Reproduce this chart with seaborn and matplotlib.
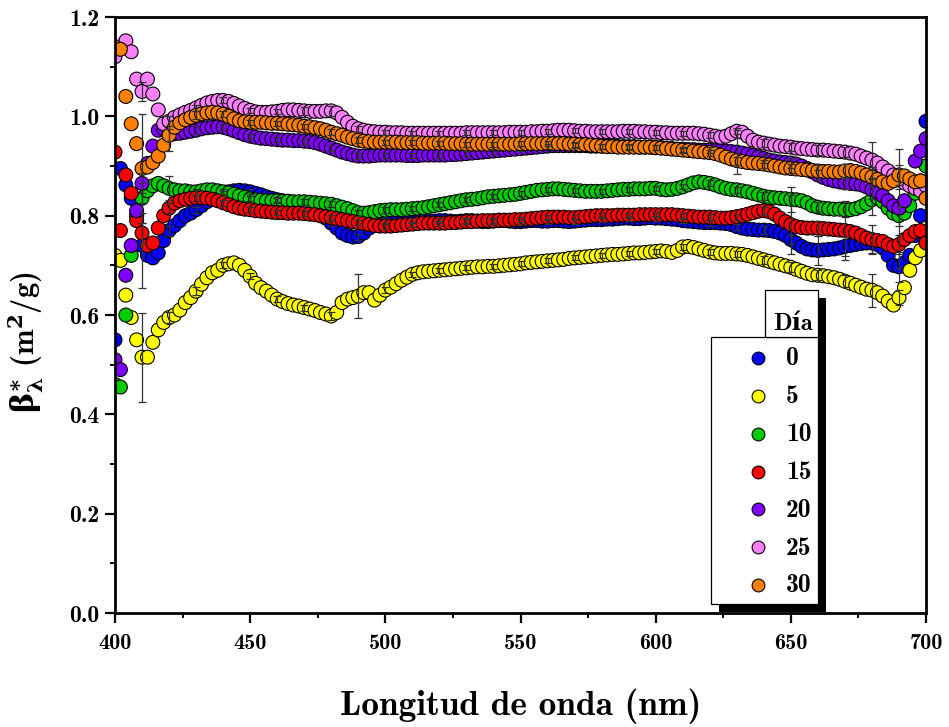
import numpy as np
import pandas as pd
import matplotlib
matplotlib.use("Agg")
import matplotlib.pyplot as plt
from matplotlib.patches import Rectangle
from matplotlib.lines import Line2D
from matplotlib.ticker import MultipleLocator, FormatStrFormatter
import seaborn as sns

# ---------------------------------------------------------------- data
wavelength = np.arange(400, 701, 2)   # nm

dias = ["0", "5", "10", "15", "20", "25", "30"]
colores = ["#0000ff", "#ffff00", "#00cc00", "#ff0000", "#8000ff", "#ff80ff", "#ff8000"]

beta_0 = [
    0.55, 0.895, 0.862, 0.835, 0.80, 0.74, 0.72, 0.715, 0.725, 0.75,
    0.77, 0.78, 0.79, 0.80, 0.805, 0.812, 0.82, 0.828, 0.835, 0.84,
    0.845, 0.848, 0.85, 0.851, 0.85, 0.848, 0.845, 0.842, 0.838, 0.835,
    0.832, 0.83, 0.828, 0.825, 0.82, 0.815, 0.81, 0.805, 0.80, 0.795,
    0.785, 0.775, 0.765, 0.76, 0.757, 0.758, 0.765, 0.775, 0.783, 0.788,
    0.79, 0.79, 0.788, 0.787, 0.788, 0.79, 0.79, 0.789, 0.788, 0.789,
    0.79, 0.79, 0.789, 0.788, 0.789, 0.79, 0.79, 0.789, 0.788, 0.788,
    0.789, 0.79, 0.79, 0.789, 0.788, 0.788, 0.789, 0.79, 0.79, 0.789,
    0.789, 0.79, 0.79, 0.789, 0.788, 0.789, 0.79, 0.791, 0.792, 0.792,
    0.792, 0.793, 0.793, 0.794, 0.795, 0.795, 0.794, 0.794, 0.795, 0.796,
    0.795, 0.795, 0.794, 0.793, 0.792, 0.79, 0.789, 0.788, 0.787, 0.786,
    0.786, 0.786, 0.785, 0.784, 0.782, 0.778, 0.775, 0.773, 0.772, 0.771,
    0.771, 0.77, 0.768, 0.765, 0.76, 0.752, 0.745, 0.738, 0.733, 0.731,
    0.73, 0.731, 0.732, 0.733, 0.735, 0.738, 0.74, 0.742, 0.744, 0.745,
    0.745, 0.742, 0.735, 0.72, 0.70, 0.697, 0.705, 0.72, 0.76, 0.80,
    0.99,
]
beta_5 = [
    0.72, 0.71, 0.64, 0.595, 0.55, 0.515, 0.515, 0.545, 0.57, 0.585,
    0.595, 0.60, 0.61, 0.625, 0.635, 0.648, 0.662, 0.675, 0.685, 0.69,
    0.70, 0.703, 0.705, 0.70, 0.69, 0.678, 0.664, 0.655, 0.648, 0.64,
    0.632, 0.627, 0.623, 0.62, 0.618, 0.615, 0.612, 0.609, 0.605, 0.602,
    0.598, 0.605, 0.625, 0.632, 0.635, 0.638, 0.645, 0.645, 0.63, 0.64,
    0.65, 0.656, 0.663, 0.67, 0.676, 0.682, 0.685, 0.687, 0.688, 0.689,
    0.69, 0.691, 0.692, 0.693, 0.694, 0.695, 0.696, 0.697, 0.697, 0.698,
    0.698, 0.699, 0.70, 0.701, 0.702, 0.703, 0.705, 0.706, 0.707, 0.708,
    0.709, 0.71, 0.711, 0.712, 0.714, 0.715, 0.716, 0.717, 0.718, 0.719,
    0.72, 0.721, 0.722, 0.722, 0.723, 0.724, 0.725, 0.725, 0.726, 0.727,
    0.728, 0.729, 0.728, 0.726, 0.73, 0.737, 0.738, 0.736, 0.733, 0.73,
    0.727, 0.725, 0.724, 0.724, 0.724, 0.723, 0.722, 0.72, 0.717, 0.714,
    0.711, 0.708, 0.705, 0.702, 0.699, 0.696, 0.692, 0.688, 0.684, 0.681,
    0.68, 0.679, 0.677, 0.675, 0.672, 0.668, 0.664, 0.66, 0.656, 0.652,
    0.65, 0.645, 0.638, 0.628, 0.62, 0.635, 0.655, 0.69, 0.715, 0.73,
    0.75,
]
beta_10 = [
    0.46, 0.455, 0.60, 0.72, 0.80, 0.835, 0.85, 0.86, 0.865, 0.86,
    0.855, 0.852, 0.85, 0.85, 0.848, 0.848, 0.85, 0.852, 0.852, 0.85,
    0.848, 0.846, 0.843, 0.84, 0.837, 0.834, 0.832, 0.831, 0.83, 0.83,
    0.83, 0.829, 0.829, 0.828, 0.828, 0.828, 0.827, 0.826, 0.825, 0.824,
    0.823, 0.82, 0.817, 0.814, 0.81, 0.806, 0.805, 0.806, 0.808, 0.81,
    0.811, 0.812, 0.812, 0.812, 0.813, 0.814, 0.815, 0.816, 0.818, 0.82,
    0.822, 0.824, 0.826, 0.828, 0.83, 0.832, 0.833, 0.834, 0.836, 0.838,
    0.839, 0.84, 0.841, 0.842, 0.843, 0.845, 0.847, 0.849, 0.851, 0.852,
    0.853, 0.854, 0.854, 0.853, 0.852, 0.851, 0.85, 0.849, 0.849, 0.849,
    0.849, 0.85, 0.851, 0.852, 0.853, 0.853, 0.854, 0.854, 0.854, 0.855,
    0.855, 0.853, 0.852, 0.853, 0.855, 0.858, 0.862, 0.866, 0.868, 0.867,
    0.865, 0.862, 0.858, 0.855, 0.853, 0.852, 0.85, 0.848, 0.845, 0.842,
    0.839, 0.837, 0.836, 0.835, 0.834, 0.833, 0.832, 0.83, 0.826, 0.82,
    0.817, 0.815, 0.814, 0.813, 0.813, 0.812, 0.812, 0.814, 0.818, 0.824,
    0.832, 0.836, 0.828, 0.815, 0.805, 0.80, 0.805, 0.82, 0.845, 0.87,
    0.90,
]
beta_15 = [
    0.928, 0.77, 0.882, 0.845, 0.79, 0.765, 0.74, 0.745, 0.775, 0.80,
    0.815, 0.825, 0.83, 0.833, 0.835, 0.836, 0.836, 0.835, 0.833, 0.83,
    0.826, 0.822, 0.818, 0.815, 0.813, 0.812, 0.81, 0.809, 0.808, 0.807,
    0.806, 0.806, 0.805, 0.805, 0.805, 0.804, 0.803, 0.802, 0.80, 0.798,
    0.796, 0.794, 0.792, 0.79, 0.788, 0.786, 0.784, 0.782, 0.78, 0.779,
    0.779, 0.779, 0.78, 0.781, 0.782, 0.783, 0.784, 0.785, 0.785, 0.785,
    0.785, 0.785, 0.786, 0.786, 0.787, 0.788, 0.788, 0.789, 0.79, 0.79,
    0.79, 0.791, 0.791, 0.791, 0.792, 0.792, 0.793, 0.794, 0.795, 0.796,
    0.797, 0.797, 0.797, 0.797, 0.796, 0.796, 0.797, 0.798, 0.799, 0.80,
    0.80, 0.80, 0.80, 0.801, 0.801, 0.801, 0.801, 0.802, 0.802, 0.802,
    0.802, 0.802, 0.802, 0.802, 0.801, 0.80, 0.799, 0.798, 0.797, 0.797,
    0.797, 0.796, 0.795, 0.795, 0.796, 0.798, 0.80, 0.803, 0.806, 0.809,
    0.81, 0.808, 0.803, 0.795, 0.788, 0.782, 0.778, 0.776, 0.775, 0.775,
    0.775, 0.774, 0.773, 0.772, 0.771, 0.77, 0.768, 0.765, 0.76, 0.755,
    0.752, 0.75, 0.748, 0.742, 0.738, 0.742, 0.752, 0.76, 0.768, 0.77,
    0.745,
]
beta_20 = [
    0.51, 0.49, 0.68, 0.74, 0.81, 0.865, 0.905, 0.94, 0.972, 0.975,
    0.965, 0.965, 0.966, 0.968, 0.97, 0.972, 0.975, 0.977, 0.978, 0.979,
    0.978, 0.975, 0.971, 0.967, 0.963, 0.96, 0.958, 0.956, 0.955, 0.954,
    0.953, 0.952, 0.952, 0.951, 0.951, 0.95, 0.949, 0.947, 0.944, 0.94,
    0.936, 0.932, 0.928, 0.925, 0.922, 0.92, 0.92, 0.92, 0.921, 0.922,
    0.922, 0.922, 0.922, 0.922, 0.921, 0.921, 0.921, 0.922, 0.922, 0.922,
    0.922, 0.922, 0.923, 0.923, 0.924, 0.925, 0.926, 0.927, 0.928, 0.929,
    0.93, 0.931, 0.932, 0.933, 0.934, 0.935, 0.936, 0.937, 0.938, 0.939,
    0.94, 0.941, 0.941, 0.941, 0.941, 0.941, 0.941, 0.941, 0.94, 0.94,
    0.94, 0.94, 0.94, 0.939, 0.939, 0.939, 0.939, 0.938, 0.938, 0.938,
    0.937, 0.937, 0.936, 0.935, 0.934, 0.934, 0.933, 0.933, 0.932, 0.932,
    0.932, 0.931, 0.931, 0.93, 0.929, 0.928, 0.926, 0.924, 0.921, 0.918,
    0.915, 0.912, 0.91, 0.908, 0.907, 0.906, 0.904, 0.90, 0.895, 0.888,
    0.882, 0.877, 0.873, 0.87, 0.868, 0.866, 0.865, 0.864, 0.862, 0.858,
    0.853, 0.848, 0.84, 0.83, 0.82, 0.815, 0.83, 0.87, 0.91, 0.93,
    0.955,
]
beta_25 = [
    1.12, 1.14, 1.152, 1.13, 1.075, 1.05, 1.075, 1.045, 1.013, 0.985,
    0.99, 0.998, 1.003, 1.008, 1.012, 1.017, 1.022, 1.027, 1.03, 1.032,
    1.032, 1.03, 1.026, 1.021, 1.016, 1.012, 1.009, 1.008, 1.008, 1.009,
    1.01, 1.012, 1.013, 1.013, 1.012, 1.011, 1.01, 1.01, 1.01, 1.011,
    1.011, 1.007, 0.998, 0.988, 0.98, 0.975, 0.972, 0.97, 0.969, 0.968,
    0.968, 0.967, 0.967, 0.967, 0.966, 0.966, 0.966, 0.966, 0.966, 0.966,
    0.966, 0.966, 0.966, 0.966, 0.966, 0.967, 0.967, 0.967, 0.967, 0.967,
    0.967, 0.967, 0.967, 0.968, 0.968, 0.968, 0.968, 0.969, 0.969, 0.97,
    0.97, 0.971, 0.972, 0.972, 0.972, 0.971, 0.97, 0.97, 0.969, 0.969,
    0.969, 0.969, 0.969, 0.969, 0.97, 0.97, 0.97, 0.969, 0.969, 0.968,
    0.968, 0.967, 0.967, 0.966, 0.966, 0.966, 0.966, 0.966, 0.965, 0.964,
    0.962, 0.96, 0.958, 0.96, 0.965, 0.97, 0.968, 0.96, 0.952, 0.948,
    0.946, 0.944, 0.942, 0.94, 0.939, 0.938, 0.936, 0.935, 0.934, 0.933,
    0.932, 0.932, 0.931, 0.93, 0.929, 0.928, 0.926, 0.924, 0.92, 0.916,
    0.912, 0.906, 0.898, 0.89, 0.882, 0.874, 0.866, 0.86, 0.855, 0.85,
    0.86,
]
beta_30 = [
    1.14, 1.135, 1.04, 0.985, 0.945, 0.895, 0.898, 0.907, 0.92, 0.942,
    0.962, 0.978, 0.987, 0.993, 0.998, 1.002, 1.005, 1.007, 1.008, 1.007,
    1.004, 1.0, 0.995, 0.991, 0.989, 0.988, 0.988, 0.988, 0.987, 0.986,
    0.986, 0.985, 0.984, 0.983, 0.982, 0.98, 0.979, 0.977, 0.975, 0.972,
    0.968, 0.965, 0.962, 0.958, 0.955, 0.952, 0.95, 0.949, 0.948, 0.948,
    0.948, 0.948, 0.948, 0.947, 0.947, 0.947, 0.947, 0.946, 0.946, 0.946,
    0.946, 0.946, 0.945, 0.945, 0.945, 0.944, 0.944, 0.944, 0.944, 0.944,
    0.944, 0.944, 0.944, 0.944, 0.944, 0.945, 0.945, 0.945, 0.945, 0.945,
    0.945, 0.945, 0.945, 0.945, 0.944, 0.944, 0.943, 0.943, 0.942, 0.941,
    0.94, 0.939, 0.939, 0.938, 0.938, 0.938, 0.938, 0.938, 0.938, 0.938,
    0.937, 0.936, 0.935, 0.934, 0.933, 0.932, 0.931, 0.93, 0.929, 0.928,
    0.927, 0.925, 0.922, 0.918, 0.914, 0.911, 0.909, 0.907, 0.906, 0.905,
    0.904, 0.902, 0.90, 0.898, 0.896, 0.895, 0.894, 0.893, 0.892, 0.891,
    0.89, 0.889, 0.889, 0.888, 0.888, 0.89, 0.891, 0.889, 0.886, 0.882,
    0.878, 0.873, 0.868, 0.865, 0.87, 0.882, 0.88, 0.874, 0.868, 0.87,
    0.835,
]

# standard deviations, reported every 10 nm between 410 and 690 nm
err_wavelength = np.arange(410, 691, 10)
err_0 = [0.085, 0.01, 0.006, 0.005, 0.005, 0.005, 0.006, 0.006, 0.006, 0.005,
         0.005, 0.005, 0.005, 0.005, 0.005, 0.005, 0.005, 0.005, 0.005, 0.005,
         0.005, 0.006, 0.006, 0.008, 0.01, 0.03, 0.02, 0.02, 0.03]
err_5 = [0.09, 0.012, 0.008, 0.006, 0.006, 0.006, 0.006, 0.008, 0.045, 0.006,
         0.005, 0.005, 0.005, 0.005, 0.005, 0.005, 0.005, 0.005, 0.005, 0.005,
         0.006, 0.006, 0.006, 0.008, 0.01, 0.01, 0.012, 0.033, 0.015]
err_10 = [0.03, 0.024, 0.006, 0.005, 0.005, 0.005, 0.006, 0.006, 0.006, 0.006,
          0.005, 0.005, 0.005, 0.005, 0.005, 0.005, 0.005, 0.005, 0.005, 0.005,
          0.005, 0.006, 0.006, 0.008, 0.025, 0.01, 0.015, 0.03, 0.02]
err_15 = [0.02, 0.01, 0.006, 0.006, 0.005, 0.005, 0.005, 0.005, 0.005, 0.005,
          0.005, 0.005, 0.005, 0.005, 0.005, 0.005, 0.005, 0.005, 0.005, 0.005,
          0.006, 0.006, 0.006, 0.008, 0.06, 0.015, 0.06, 0.03, 0.02]
err_20 = [0.02, 0.035, 0.008, 0.006, 0.005, 0.005, 0.005, 0.006, 0.006, 0.005,
          0.005, 0.005, 0.005, 0.005, 0.005, 0.005, 0.005, 0.005, 0.005, 0.005,
          0.005, 0.006, 0.045, 0.008, 0.01, 0.01, 0.012, 0.02, 0.12]
err_25 = [0.02, 0.01, 0.006, 0.006, 0.005, 0.005, 0.008, 0.01, 0.006, 0.005,
          0.005, 0.005, 0.005, 0.005, 0.005, 0.005, 0.005, 0.005, 0.005, 0.005,
          0.005, 0.006, 0.006, 0.008, 0.008, 0.01, 0.01, 0.037, 0.02]
err_30 = [0.11, 0.012, 0.008, 0.006, 0.005, 0.005, 0.005, 0.006, 0.006, 0.005,
          0.005, 0.005, 0.005, 0.005, 0.005, 0.005, 0.005, 0.005, 0.005, 0.005,
          0.005, 0.006, 0.008, 0.008, 0.01, 0.012, 0.015, 0.02, 0.02]

series = [beta_0, beta_5, beta_10, beta_15, beta_20, beta_25, beta_30]
errores = [err_0, err_5, err_10, err_15, err_20, err_25, err_30]

df = pd.concat(
    [pd.DataFrame({"lambda": wavelength, "beta": vals, "Día": d})
     for d, vals in zip(dias, series)],
    ignore_index=True,
)

# ---------------------------------------------------------------- style
sns.set_theme(style="white")
plt.rcParams["font.family"] = ["cmb10", "DejaVu Serif"]
plt.rcParams["font.weight"] = "bold"
plt.rcParams["mathtext.fontset"] = "cm"
plt.rcParams["axes.unicode_minus"] = False
for key in ("text.color", "axes.labelcolor", "xtick.color", "ytick.color",
            "xtick.labelcolor", "ytick.labelcolor"):
    plt.rcParams[key] = "black"

W, H = 949, 727
fig = plt.figure(figsize=(W / 100, H / 100), dpi=100)
ax = fig.add_axes([115 / W, 1 - 613 / H, 811 / W, 596 / H])

sns.scatterplot(
    data=df, x="lambda", y="beta", hue="Día", palette=colores,
    s=100, edgecolor="black", linewidth=0.8, legend=False, ax=ax,
)

# error bars on top of the markers
for vals, err in zip(series, errores):
    lookup = dict(zip(wavelength.tolist(), vals))
    centers = [lookup[int(w)] for w in err_wavelength]
    ax.errorbar(err_wavelength, centers, yerr=err, fmt="none",
                ecolor="#333333", elinewidth=0.9, capsize=3.2,
                capthick=0.9, zorder=3)

ax.set_xlim(400, 700)
ax.set_ylim(0, 1.2)
ax.xaxis.set_major_locator(MultipleLocator(50))
ax.xaxis.set_minor_locator(MultipleLocator(25))
ax.yaxis.set_major_locator(MultipleLocator(0.2))
ax.yaxis.set_minor_locator(MultipleLocator(0.1))
ax.yaxis.set_major_formatter(FormatStrFormatter("%.1f"))

for s in ax.spines.values():
    s.set_linewidth(2.0)
    s.set_color("black")
ax.tick_params(which="major", direction="out", length=7, width=1.6,
               color="black", bottom=True, left=True, top=False, right=False)
ax.tick_params(which="minor", direction="out", length=3.8, width=1.4,
               color="black", bottom=True, left=True, top=False, right=False)
ax.tick_params(axis="x", which="major", labelsize=16, pad=8)
ax.tick_params(axis="y", which="major", labelsize=17, pad=4)

ax.set_xlabel("Longitud de onda (nm)", fontsize=25.5, labelpad=26)
ylab = ax.set_ylabel(r"$\mathbf{\beta^{\ast}_{\lambda}}$ (m$^{\mathbf{2}}$/g)",
                     fontsize=22)
ylab.set_math_fontfamily("dejavuserif")
ax.yaxis.set_label_coords(-0.085, 0.455)

# ---------------------------------------------------------------- legend
def fx(px):
    return px / W


def fy(py):
    return 1 - py / H


def box(x0, y0, x1, y1, **kw):
    r = Rectangle((fx(x0), fy(y1)), fx(x1) - fx(x0), fy(y0) - fy(y1),
                  transform=fig.transFigure, **kw)
    fig.add_artist(r)


off = 8
box(711 + off, 337 + off, 818 + off, 604 + off, facecolor="black",
    edgecolor="none", zorder=5)
box(765 + off, 290 + off, 818 + off, 337 + off, facecolor="black",
    edgecolor="none", zorder=5)
box(711, 337, 818, 604, facecolor="white", edgecolor="black", lw=0.9, zorder=6)
box(765, 290, 818, 337, facecolor="white", edgecolor="black", lw=0.9, zorder=6)

fig.text(fx(793), fy(324), "Día", fontsize=17.5, ha="center", va="center",
         zorder=7)
row_y = np.linspace(358, 585, len(dias))
for d, c, yy in zip(dias, colores, row_y):
    fig.add_artist(Line2D([fx(758)], [fy(yy)], marker="o", markersize=9.2,
                          markerfacecolor=c, markeredgecolor="black",
                          markeredgewidth=0.8, linestyle="none",
                          transform=fig.transFigure, zorder=7))
    fig.text(fx(786), fy(yy + 1), d, fontsize=18.5, ha="left", va="center",
             zorder=7)

fig.savefig("out.png", dpi=100, facecolor="white")
